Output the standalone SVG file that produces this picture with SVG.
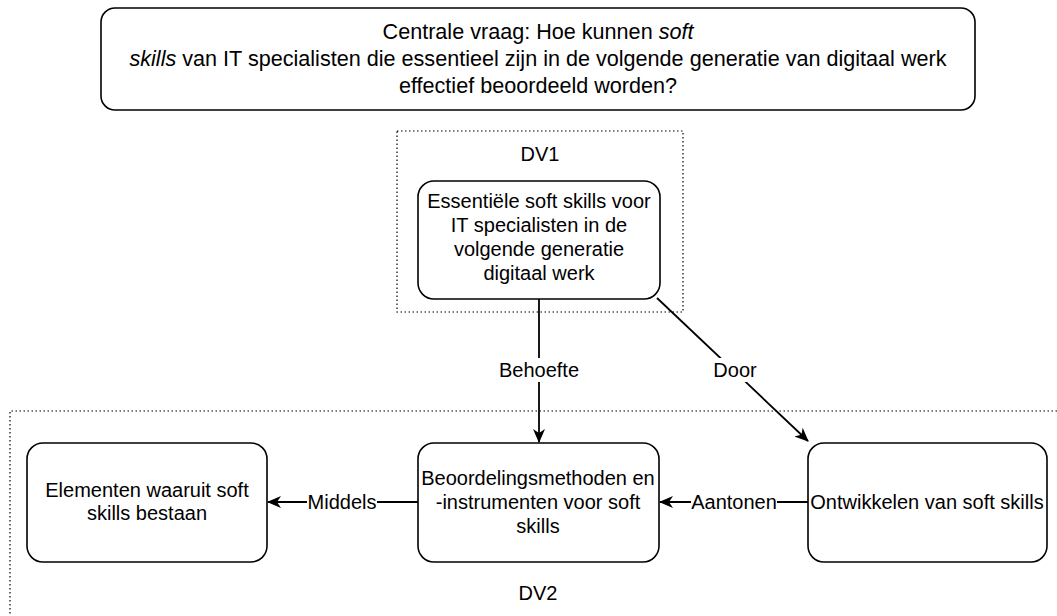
<svg xmlns="http://www.w3.org/2000/svg" width="1057" height="616" viewBox="0 0 1057 616">
<style>
text{font-family:"Liberation Sans",Arial,sans-serif;font-size:20px;fill:#000;text-anchor:middle}
.q{font-size:21.6px}
.node{fill:#fff;stroke:#000;stroke-width:1.6}
.group{fill:none;stroke:#000;stroke-width:1.2;stroke-dasharray:1.5 2.5}
.edge{fill:none;stroke:#000;stroke-width:1.8}
.lbl{fill:#fff;stroke:none}
</style>
<defs>
<marker id="arr" viewBox="0 0 14 12" refX="13" refY="6" markerWidth="14" markerHeight="12" markerUnits="userSpaceOnUse" orient="auto">
<path d="M0,0 L14,6 L0,12 L4,6 Z" fill="#000"/>
</marker>
</defs>
<rect width="1057" height="616" fill="#fff"/>
<g id="question">
<rect class="node" x="101" y="8" width="874" height="102" rx="14"/>
<text class="q" x="538" y="39">Centrale vraag: Hoe kunnen <tspan font-style="italic">soft</tspan></text>
<text class="q" x="538" y="66"><tspan font-style="italic">skills</tspan> van IT specialisten die essentieel zijn in de volgende generatie van digitaal werk</text>
<text class="q" x="538" y="93">effectief beoordeeld worden?</text>
</g>
<g id="dv1">
<rect class="group" x="397" y="131" width="286" height="181"/>
<text x="540" y="161">DV1</text>
</g>
<g id="dv2">
<path class="group" d="M1057,411 L10,411 L10,616"/>
<text x="538" y="600">DV2</text>
</g>
<g id="connectors">
<line class="edge" x1="539" y1="299" x2="539" y2="442" marker-end="url(#arr)"/>
<rect class="lbl" x="496" y="358" width="86" height="24"/>
<text x="539" y="377">Behoefte</text>
<line class="edge" x1="657" y1="298" x2="808" y2="441" marker-end="url(#arr)"/>
<rect class="lbl" x="710" y="358" width="50" height="24"/>
<text x="735" y="377">Door</text>
<line class="edge" x1="418" y1="502" x2="268" y2="502" marker-end="url(#arr)"/>
<rect class="lbl" x="307" y="491" width="70" height="22"/>
<text x="342" y="509">Middels</text>
<line class="edge" x1="808" y1="502" x2="660" y2="502" marker-end="url(#arr)"/>
<rect class="lbl" x="691" y="491" width="86" height="22"/>
<text x="734" y="509">Aantonen</text>
</g>
<g id="essentiele">
<rect class="node" x="418" y="181" width="242" height="118" rx="16"/>
<text x="539" y="208">Essentiële soft skills voor</text>
<text x="539" y="232">IT specialisten in de</text>
<text x="539" y="256">volgende generatie</text>
<text x="539" y="280">digitaal werk</text>
</g>
<g id="elementen">
<rect class="node" x="27" y="443" width="240" height="119" rx="16"/>
<text x="147" y="497">Elementen waaruit soft</text>
<text x="147" y="520">skills bestaan</text>
</g>
<g id="beoordeling">
<rect class="node" x="418" y="443" width="241" height="119" rx="16"/>
<text x="538" y="485">Beoordelingsmethoden en</text>
<text x="538" y="509">-instrumenten voor soft</text>
<text x="538" y="533">skills</text>
</g>
<g id="ontwikkelen">
<rect class="node" x="808" y="443" width="239" height="119" rx="16"/>
<text x="927" y="509">Ontwikkelen van soft skills</text>
</g>
</svg>
